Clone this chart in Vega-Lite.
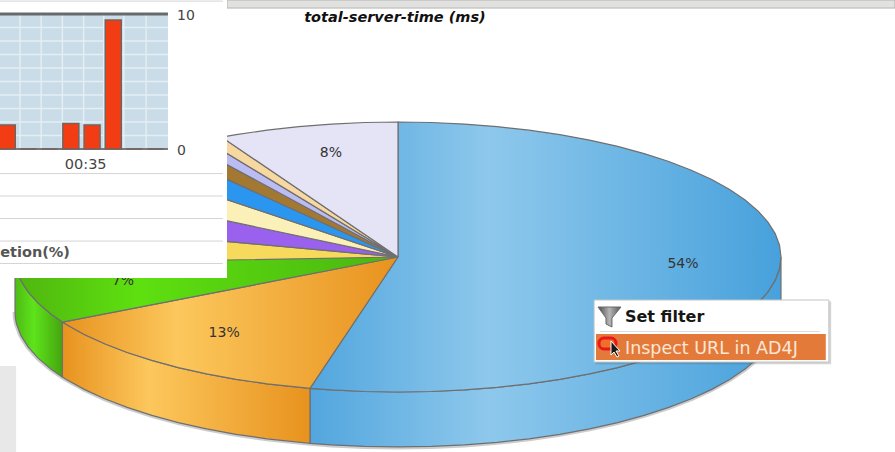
{"$schema":"https://vega.github.io/schema/vega-lite/v6.json","width":895,"height":452,"autosize":{"type":"none"},"padding":0,"background":"#ffffff","config":{"view":{"stroke":null}},
"datasets":{
"rim":[
{"s":"blue","a":-1,"x":0,"y":0},
{"s":"blue","a":0,"x":0,"y":1},{"s":"blue","a":5,"x":0.0872,"y":0.9962},{"s":"blue","a":10,"x":0.1736,"y":0.9848},{"s":"blue","a":15,"x":0.2588,"y":0.9659},{"s":"blue","a":20,"x":0.342,"y":0.9397},{"s":"blue","a":25,"x":0.4226,"y":0.9063},{"s":"blue","a":30,"x":0.5,"y":0.866},{"s":"blue","a":35,"x":0.5736,"y":0.8192},{"s":"blue","a":40,"x":0.6428,"y":0.766},{"s":"blue","a":45,"x":0.7071,"y":0.7071},{"s":"blue","a":50,"x":0.766,"y":0.6428},{"s":"blue","a":55,"x":0.8192,"y":0.5736},{"s":"blue","a":60,"x":0.866,"y":0.5},{"s":"blue","a":65,"x":0.9063,"y":0.4226},{"s":"blue","a":70,"x":0.9397,"y":0.342},{"s":"blue","a":75,"x":0.9659,"y":0.2588},{"s":"blue","a":80,"x":0.9848,"y":0.1736},{"s":"blue","a":85,"x":0.9962,"y":0.0872},
{"s":"blue","a":90,"x":1,"y":0,"b":-0.407},{"s":"blue","a":95,"x":0.9962,"y":-0.0872,"b":-0.4942},{"s":"blue","a":100,"x":0.9848,"y":-0.1736,"b":-0.5806},{"s":"blue","a":105,"x":0.9659,"y":-0.2588,"b":-0.6658},{"s":"blue","a":110,"x":0.9397,"y":-0.342,"b":-0.749},{"s":"blue","a":115,"x":0.9063,"y":-0.4226,"b":-0.8296},{"s":"blue","a":120,"x":0.866,"y":-0.5,"b":-0.907},{"s":"blue","a":125,"x":0.8192,"y":-0.5736,"b":-0.9806},{"s":"blue","a":130,"x":0.766,"y":-0.6428,"b":-1.0498},{"s":"blue","a":135,"x":0.7071,"y":-0.7071,"b":-1.1141},{"s":"blue","a":140,"x":0.6428,"y":-0.766,"b":-1.173},{"s":"blue","a":145,"x":0.5736,"y":-0.8192,"b":-1.2262},{"s":"blue","a":150,"x":0.5,"y":-0.866,"b":-1.273},{"s":"blue","a":155,"x":0.4226,"y":-0.9063,"b":-1.3133},{"s":"blue","a":160,"x":0.342,"y":-0.9397,"b":-1.3467},{"s":"blue","a":165,"x":0.2588,"y":-0.9659,"b":-1.3729},{"s":"blue","a":170,"x":0.1736,"y":-0.9848,"b":-1.3918},{"s":"blue","a":175,"x":0.0872,"y":-0.9962,"b":-1.4032},{"s":"blue","a":180,"x":0,"y":-1,"b":-1.407},{"s":"blue","a":185,"x":-0.0872,"y":-0.9962,"b":-1.4032},{"s":"blue","a":190,"x":-0.1736,"y":-0.9848,"b":-1.3918},{"s":"blue","a":193.3,"x":-0.2298,"y":-0.9732,"b":-1.3802},{"s":"blue","a":999,"x":0,"y":0},
{"s":"orange","a":-1,"x":0,"y":0},
{"s":"orange","a":193.3,"x":-0.2298,"y":-0.9732,"b":-1.3802},{"s":"orange","a":200,"x":-0.342,"y":-0.9397,"b":-1.3467},{"s":"orange","a":205,"x":-0.4226,"y":-0.9063,"b":-1.3133},{"s":"orange","a":210,"x":-0.5,"y":-0.866,"b":-1.273},{"s":"orange","a":215,"x":-0.5736,"y":-0.8192,"b":-1.2262},{"s":"orange","a":220,"x":-0.6428,"y":-0.766,"b":-1.173},{"s":"orange","a":225,"x":-0.7071,"y":-0.7071,"b":-1.1141},{"s":"orange","a":230,"x":-0.766,"y":-0.6428,"b":-1.0498},{"s":"orange","a":235,"x":-0.8192,"y":-0.5736,"b":-0.9806},{"s":"orange","a":240,"x":-0.866,"y":-0.5,"b":-0.907},{"s":"orange","a":241.2,"x":-0.8763,"y":-0.4818,"b":-0.8888},{"s":"orange","a":999,"x":0,"y":0},
{"s":"green","a":-1,"x":0,"y":0},
{"s":"green","a":241.2,"x":-0.8763,"y":-0.4818,"b":-0.8888},{"s":"green","a":245,"x":-0.9063,"y":-0.4226,"b":-0.8296},{"s":"green","a":250,"x":-0.9397,"y":-0.342,"b":-0.749},{"s":"green","a":255,"x":-0.9659,"y":-0.2588,"b":-0.6658},{"s":"green","a":260,"x":-0.9848,"y":-0.1736,"b":-0.5806},{"s":"green","a":265,"x":-0.9962,"y":-0.0872,"b":-0.4942},{"s":"green","a":267.15,"x":-0.9988,"y":-0.0497,"b":-0.4567},{"s":"green","a":270,"x":-1,"y":0,"b":-0.407},{"s":"green","a":999,"x":0,"y":0},
{"s":"yellow","a":-1,"x":0,"y":0},{"s":"yellow","a":267.15,"x":-0.9988,"y":-0.0497},{"s":"yellow","a":284.4,"x":-0.9686,"y":0.2487},{"s":"yellow","a":999,"x":0,"y":0},
{"s":"purple","a":-1,"x":0,"y":0},{"s":"purple","a":284.4,"x":-0.9686,"y":0.2487},{"s":"purple","a":301,"x":-0.8572,"y":0.515},{"s":"purple","a":999,"x":0,"y":0},
{"s":"cream","a":-1,"x":0,"y":0},{"s":"cream","a":301,"x":-0.8572,"y":0.515},{"s":"cream","a":313.6,"x":-0.7242,"y":0.6896},{"s":"cream","a":999,"x":0,"y":0},
{"s":"azure","a":-1,"x":0,"y":0},{"s":"azure","a":313.6,"x":-0.7242,"y":0.6896},{"s":"azure","a":322.2,"x":-0.6129,"y":0.7902},{"s":"azure","a":999,"x":0,"y":0},
{"s":"brown","a":-1,"x":0,"y":0},{"s":"brown","a":322.2,"x":-0.6129,"y":0.7902},{"s":"brown","a":326.9,"x":-0.5461,"y":0.8377},{"s":"brown","a":999,"x":0,"y":0},
{"s":"lavender","a":-1,"x":0,"y":0},{"s":"lavender","a":326.9,"x":-0.5461,"y":0.8377},{"s":"lavender","a":329.8,"x":-0.503,"y":0.8646},{"s":"lavender","a":999,"x":0,"y":0},
{"s":"tan","a":-1,"x":0,"y":0},{"s":"tan","a":329.8,"x":-0.503,"y":0.8646},{"s":"tan","a":332.6,"x":-0.4602,"y":0.8878},{"s":"tan","a":999,"x":0,"y":0},
{"s":"pale","a":-1,"x":0,"y":0},{"s":"pale","a":332.6,"x":-0.4602,"y":0.8878},{"s":"pale","a":335,"x":-0.4226,"y":0.9063},{"s":"pale","a":340,"x":-0.342,"y":0.9397},{"s":"pale","a":345,"x":-0.2588,"y":0.9659},{"s":"pale","a":350,"x":-0.1736,"y":0.9848},{"s":"pale","a":355,"x":-0.0872,"y":0.9962},{"s":"pale","a":360,"x":0,"y":1},{"s":"pale","a":999,"x":0,"y":0}
],
"boxes":[
{"k":"band","x":-0.4465,"x2":1.2977,"y":1.844,"y2":1.9037},
{"k":"side","x":-1.0392,"x2":-0.997,"y":-0.807,"y2":-1.4444},
{"k":"popupshadow","x":0.515,"x2":1.131,"y":-0.33,"y2":-0.795},
{"k":"popup","x":0.512,"x2":1.125,"y":-0.3185,"y2":-0.778},
{"k":"row","x":0.517,"x2":1.117,"y":-0.57,"y2":-0.763},
{"k":"sep","x":0.527,"x2":1.102,"y":-0.548,"y2":-0.552},
{"k":"icon","x":0.5248,"x2":0.5692,"y":-0.6,"y2":-0.6815}
],
"funnel":[
{"a":1,"x":0.5222,"y":-0.3704},{"a":2,"x":0.5822,"y":-0.3704},{"a":3,"x":0.5587,"y":-0.4519},{"a":4,"x":0.5587,"y":-0.5185},{"a":5,"x":0.5431,"y":-0.4963},{"a":6,"x":0.5431,"y":-0.4519},{"a":7,"x":0.5222,"y":-0.3704}
],
"cursor":[
{"a":1,"x":0.5561,"y":-0.6222},{"a":2,"x":0.5561,"y":-0.7259},{"a":3,"x":0.564,"y":-0.7037},{"a":4,"x":0.5718,"y":-0.7407},{"a":5,"x":0.577,"y":-0.7333},{"a":6,"x":0.5692,"y":-0.6963},{"a":7,"x":0.5796,"y":-0.6963},{"a":8,"x":0.5561,"y":-0.6222}
],
"pieLabels":[
{"x":0.744,"y":-0.05,"t":"54%"},{"x":-0.454,"y":-0.562,"t":"13%"},{"x":-0.175,"y":0.772,"t":"8%"},{"x":-0.718,"y":-0.178,"t":"7%"}
],
"bars":[
{"t":31.3,"v":1.78,"v2":0},{"t":32.3,"v":0,"v2":0},{"t":33.3,"v":0,"v2":0},{"t":34.3,"v":1.9,"v2":0},{"t":35.3,"v":1.78,"v2":0},{"t":36.3,"v":9.55,"v2":0},{"t":37.3,"v":0,"v2":0},{"t":38.3,"v":0,"v2":0}
],
"gridX":[{"t":31.9,"v":0,"v2":10},{"t":32.9,"v":0,"v2":10},{"t":33.9,"v":0,"v2":10},{"t":34.9,"v":0,"v2":10},{"t":35.85,"v":0,"v2":10},{"t":36.8,"v":0,"v2":10},{"t":37.85,"v":0,"v2":10}],
"gridY":[{"v":1,"t":30.958,"t2":38.88},{"v":2,"t":30.958,"t2":38.88},{"v":3,"t":30.958,"t2":38.88},{"v":4,"t":30.958,"t2":38.88},{"v":5,"t":30.958,"t2":38.88},{"v":6,"t":30.958,"t2":38.88},{"v":7,"t":30.958,"t2":38.88},{"v":8,"t":30.958,"t2":38.88},{"v":9,"t":30.958,"t2":38.88}],
"frame":[{"v":10,"t":30.958,"t2":38.88}],
"base":[{"v":0,"t":30.958,"t2":38.88}],
"rows":[{"v":10.96,"t":30.958,"t2":41.47},{"v":-1.815,"t":30.958,"t2":41.47},{"v":-3.48,"t":30.958,"t2":41.47},{"v":-5.148,"t":30.958,"t2":41.47},{"v":-6.815,"t":30.958,"t2":41.47},{"v":-8.48,"t":30.958,"t2":41.47}]
},
"resolve":{"scale":{"x":"independent","y":"independent"}},
"layer":[
{"encoding":{"x":{"field":"x","type":"quantitative","axis":null,"scale":{"domain":[-1.0392,1.2977],"nice":false,"zero":false}},"y":{"field":"y","type":"quantitative","axis":null,"scale":{"domain":[-1.4444,1.9037],"nice":false,"zero":false}}},
"layer":[
{"data":{"name":"boxes"},"transform":[{"filter":"datum.k==='band'"}],"mark":{"type":"rect","fill":"#e1e2df","stroke":"#b4b4b2","strokeWidth":1},"encoding":{"x2":{"field":"x2"},"y2":{"field":"y2"}}},
{"data":{"name":"boxes"},"transform":[{"filter":"datum.k==='side'"}],"mark":{"type":"rect","fill":"#e8e8e8"},"encoding":{"x2":{"field":"x2"},"y2":{"field":"y2"}}},
{"data":{"name":"rim"},"transform":[{"filter":"isValid(datum.b)"}],"mark":{"type":"line","stroke":"#555555","strokeWidth":5,"opacity":0.3},"encoding":{"y":{"field":"b","type":"quantitative"},"order":{"field":"a","type":"quantitative"}}},
{"data":{"name":"rim"},"transform":[{"filter":"datum.s==='blue'&&isValid(datum.b)"}],"mark":{"type":"area","stroke":"#6f6f6f","strokeWidth":1.2,"fill":{"gradient":"linear","x1":0,"x2":1,"y1":0,"y2":0,"stops":[{"offset":0,"color":"#52a6de"},{"offset":0.38,"color":"#8ec8ec"},{"offset":1,"color":"#47a1dc"}]}},"encoding":{"y2":{"field":"b"}}},
{"data":{"name":"rim"},"transform":[{"filter":"datum.s==='orange'&&isValid(datum.b)"}],"mark":{"type":"area","stroke":"#6f6f6f","strokeWidth":1.2,"fill":{"gradient":"linear","x1":0,"x2":1,"y1":0,"y2":0,"stops":[{"offset":0,"color":"#e8921e"},{"offset":0.35,"color":"#fcc75c"},{"offset":1,"color":"#e8921e"}]}},"encoding":{"y2":{"field":"b"}}},
{"data":{"name":"rim"},"transform":[{"filter":"datum.s==='green'&&isValid(datum.b)"}],"mark":{"type":"area","stroke":"#6f6f6f","strokeWidth":1.2,"fill":{"gradient":"linear","x1":0,"x2":1,"y1":0,"y2":0,"stops":[{"offset":0,"color":"#4dbb14"},{"offset":0.4,"color":"#5ee31b"},{"offset":1,"color":"#45a50f"}]}},"encoding":{"y2":{"field":"b"}}},
{"data":{"name":"rim"},"transform":[{"filter":"datum.s==='blue'"}],"mark":{"type":"line","filled":true,"stroke":"#6f6f6f","strokeWidth":1.2,"fill":{"gradient":"linear","x1":0,"x2":1,"y1":0,"y2":0,"stops":[{"offset":0,"color":"#52a6de"},{"offset":0.38,"color":"#8ec8ec"},{"offset":1,"color":"#47a1dc"}]}},"encoding":{"order":{"field":"a","type":"quantitative"}}},
{"data":{"name":"rim"},"transform":[{"filter":"datum.s==='orange'"}],"mark":{"type":"line","filled":true,"stroke":"#6f6f6f","strokeWidth":1.2,"fill":{"gradient":"linear","x1":0,"x2":1,"y1":0,"y2":0,"stops":[{"offset":0,"color":"#e8921e"},{"offset":0.34,"color":"#fcc75c"},{"offset":1,"color":"#e8921e"}]}},"encoding":{"order":{"field":"a","type":"quantitative"}}},
{"data":{"name":"rim"},"transform":[{"filter":"datum.s==='green'"}],"mark":{"type":"line","filled":true,"stroke":"#6f6f6f","strokeWidth":1.2,"fill":{"gradient":"linear","x1":0,"x2":1,"y1":0,"y2":0,"stops":[{"offset":0,"color":"#4fb50f"},{"offset":0.32,"color":"#5ee010"},{"offset":1,"color":"#4ab50f"}]}},"encoding":{"order":{"field":"a","type":"quantitative"}}},
{"data":{"name":"rim"},"transform":[{"filter":"datum.s==='yellow'"}],"mark":{"type":"line","filled":true,"fill":"#f7d95c","stroke":"#6f6f6f","strokeWidth":1.2},"encoding":{"order":{"field":"a","type":"quantitative"}}},
{"data":{"name":"rim"},"transform":[{"filter":"datum.s==='purple'"}],"mark":{"type":"line","filled":true,"fill":"#9a60ee","stroke":"#6f6f6f","strokeWidth":1.2},"encoding":{"order":{"field":"a","type":"quantitative"}}},
{"data":{"name":"rim"},"transform":[{"filter":"datum.s==='cream'"}],"mark":{"type":"line","filled":true,"fill":"#fbf0b8","stroke":"#6f6f6f","strokeWidth":1.2},"encoding":{"order":{"field":"a","type":"quantitative"}}},
{"data":{"name":"rim"},"transform":[{"filter":"datum.s==='azure'"}],"mark":{"type":"line","filled":true,"fill":"#2b96f0","stroke":"#6f6f6f","strokeWidth":1.2},"encoding":{"order":{"field":"a","type":"quantitative"}}},
{"data":{"name":"rim"},"transform":[{"filter":"datum.s==='brown'"}],"mark":{"type":"line","filled":true,"fill":"#a37833","stroke":"#6f6f6f","strokeWidth":1.2},"encoding":{"order":{"field":"a","type":"quantitative"}}},
{"data":{"name":"rim"},"transform":[{"filter":"datum.s==='lavender'"}],"mark":{"type":"line","filled":true,"fill":"#bcbcf4","stroke":"#6f6f6f","strokeWidth":1.2},"encoding":{"order":{"field":"a","type":"quantitative"}}},
{"data":{"name":"rim"},"transform":[{"filter":"datum.s==='tan'"}],"mark":{"type":"line","filled":true,"fill":"#f7d8a0","stroke":"#6f6f6f","strokeWidth":1.2},"encoding":{"order":{"field":"a","type":"quantitative"}}},
{"data":{"name":"rim"},"transform":[{"filter":"datum.s==='pale'"}],"mark":{"type":"line","filled":true,"fill":"#e4e4f6","stroke":"#6f6f6f","strokeWidth":1.2},"encoding":{"order":{"field":"a","type":"quantitative"}}},
{"data":{"name":"pieLabels"},"mark":{"type":"text","font":"DejaVu Sans","fontSize":14,"fill":"#333333"},"encoding":{"text":{"field":"t"}}},
{"data":{"values":[{"x":-0.008,"y":1.77,"t":"total-server-time (ms)"}]},"mark":{"type":"text","font":"DejaVu Sans","fontSize":14.5,"fontWeight":"bold","fontStyle":"italic","fill":"#111111"},"encoding":{"text":{"field":"t"}}},
{"data":{"name":"boxes"},"transform":[{"filter":"datum.k==='popupshadow'"}],"mark":{"type":"rect","fill":"#555555","opacity":0.25},"encoding":{"x2":{"field":"x2"},"y2":{"field":"y2"}}},
{"data":{"name":"boxes"},"transform":[{"filter":"datum.k==='popup'"}],"mark":{"type":"rect","fill":"#ffffff","stroke":"#c4c4c4","strokeWidth":1},"encoding":{"x2":{"field":"x2"},"y2":{"field":"y2"}}},
{"data":{"name":"boxes"},"transform":[{"filter":"datum.k==='row'"}],"mark":{"type":"rect","fill":"#e47a3a"},"encoding":{"x2":{"field":"x2"},"y2":{"field":"y2"}}},
{"data":{"name":"boxes"},"transform":[{"filter":"datum.k==='sep'"}],"mark":{"type":"rect","fill":"#bdbdbd"},"encoding":{"x2":{"field":"x2"},"y2":{"field":"y2"}}},
{"data":{"name":"boxes"},"transform":[{"filter":"datum.k==='icon'"}],"mark":{"type":"rect","fill":"#f0702a","stroke":"#e8181c","strokeWidth":3,"cornerRadius":5},"encoding":{"x2":{"field":"x2"},"y2":{"field":"y2"}}},
{"data":{"name":"funnel"},"mark":{"type":"line","filled":true,"stroke":"#6a6a6a","strokeWidth":1,"fill":{"gradient":"linear","x1":0,"x2":1,"y1":0,"y2":0,"stops":[{"offset":0,"color":"#4a4a4a"},{"offset":0.5,"color":"#b5b5b5"},{"offset":1,"color":"#555555"}]}},"encoding":{"order":{"field":"a","type":"quantitative"}}},
{"data":{"values":[{"x":0.5927,"y":-0.445,"t":"Set filter"}]},"mark":{"type":"text","align":"left","font":"DejaVu Sans","fontSize":16,"fontWeight":"bold","fill":"#161616"},"encoding":{"text":{"field":"t"}}},
{"data":{"values":[{"x":0.5927,"y":-0.681,"t":"Inspect URL in AD4J"}]},"mark":{"type":"text","align":"left","font":"DejaVu Sans","fontSize":17.5,"fill":"#fbe6d8"},"encoding":{"text":{"field":"t"}}},
{"data":{"name":"cursor"},"mark":{"type":"line","filled":true,"fill":"#1a1a1a","stroke":"#ffffff","strokeWidth":1},"encoding":{"order":{"field":"a","type":"quantitative"}}}
]},
{"encoding":{"x":{"field":"t","type":"quantitative","axis":null,"scale":{"domain":[30.958,73.175],"nice":false,"zero":false,"padding":0}},"y":{"field":"v","type":"quantitative","axis":null,"scale":{"domain":[-22.44,11.04],"nice":false,"zero":false,"padding":0}}},
"layer":[
{"data":{"values":[{"t":30.958,"t2":41.666,"v":11.04,"v2":-9.556}]},"mark":{"type":"rect","fill":"#ffffff"},"encoding":{"x2":{"field":"t2"},"y2":{"field":"v2"}}},
{"data":{"values":[{"t":30.958,"t2":38.88,"v":10,"v2":0}]},"mark":{"type":"rect","fill":"#c9dce7"},"encoding":{"x2":{"field":"t2"},"y2":{"field":"v2"}}},
{"data":{"name":"gridX"},"mark":{"type":"rule","stroke":"#e4eef4","strokeWidth":1.5},"encoding":{"y2":{"field":"v2"}}},
{"data":{"name":"gridY"},"mark":{"type":"rule","stroke":"#e4eef4","strokeWidth":1.5},"encoding":{"x2":{"field":"t2"}}},
{"data":{"name":"frame"},"mark":{"type":"rule","stroke":"#666a6c","strokeWidth":3},"encoding":{"x2":{"field":"t2"}}},
{"data":{"name":"base"},"mark":{"type":"rule","stroke":"#777a7c","strokeWidth":2},"encoding":{"x2":{"field":"t2"}}},
{"data":{"name":"rows"},"mark":{"type":"rule","stroke":"#d4d4d4","strokeWidth":1},"encoding":{"x2":{"field":"t2"}}},
{"data":{"name":"bars"},"mark":{"type":"bar","size":16,"fill":"#f23c14","stroke":"#76625c","strokeWidth":1.5},"encoding":{"y2":{"field":"v2"}}},
{"data":{"values":[{"t":39.307,"v":9.88,"l":"10"},{"t":39.307,"v":-0.12,"l":"0"}]},"mark":{"type":"text","align":"left","font":"DejaVu Sans","fontSize":14,"fill":"#444444"},"encoding":{"text":{"field":"l"}}},
{"data":{"values":[{"t":35,"v":-1.185,"l":"00:35"}]},"mark":{"type":"text","font":"DejaVu Sans","fontSize":14.5,"fill":"#444444"},"encoding":{"text":{"field":"l"}}},
{"data":{"values":[{"t":34.26,"v":-7.7,"l":"etion(%)"}]},"mark":{"type":"text","align":"right","font":"DejaVu Sans","fontSize":14.5,"fontWeight":"bold","fill":"#555555"},"encoding":{"text":{"field":"l"}}}
]}
]}
